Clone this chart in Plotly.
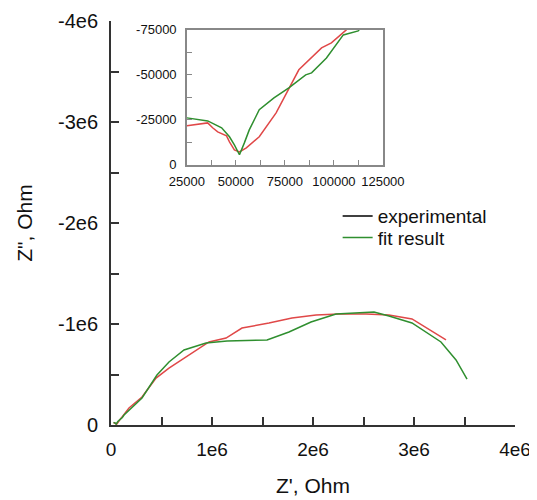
import plotly.graph_objects as go

# experimental impedance (Z', Z'') in Ohm - low-Z part, rest from the main plot
exp_re = [25000, 35600, 38100, 40700, 45200, 46700, 49200, 51800, 55300, 61900, 70500, 77000,
          82100, 93700, 98700, 106300,
          178000, 307000, 446000, 574000, 743000, 970000, 1139000, 1297000, 1564000, 1792000,
          2030000, 2257000, 2525000, 2752000, 2980000, 3317000]
exp_im = [-21700, -23300, -20600, -18300, -16100, -12800, -8300, -7200, -9400, -15600, -28900, -42800,
          -52800, -65000, -67800, -75000,
          -168000, -277000, -465000, -564000, -673000, -822000, -861000, -960000, -1010000, -1059000,
          -1089000, -1099000, -1099000, -1089000, -1050000, -842000]

fit_re = [25000, 35600, 42700, 46700, 49200, 51800, 54300, 56800, 61900, 69400, 77000, 85600,
          88600, 96200, 104800, 112400,
          129000, 198000, 307000, 455000, 574000, 723000, 941000, 1149000, 1545000, 1762000,
          1980000, 2228000, 2604000, 2752000, 2980000, 3267000, 3416000, 3525000]
fit_im = [-26100, -24400, -20600, -15600, -11100, -5600, -12200, -19400, -30600, -37200, -42800, -50000,
          -51100, -59400, -72200, -74400,
          -99000, -168000, -267000, -495000, -624000, -743000, -812000, -832000, -842000, -921000,
          -1020000, -1099000, -1119000, -1079000, -1010000, -822000, -644000, -455000]

main_xticks = [0, 1e6, 2e6, 3e6, 4e6]
main_xlabels = ["0", "1e6", "2e6", "3e6", "4e6"]
main_yticks = [0, -1e6, -2e6, -3e6, -4e6]
main_ylabels = ["0", "-1e6", "-2e6", "-3e6", "-4e6"]
inset_xticks = [25000, 50000, 75000, 100000, 125000]
inset_xlabels = ["25000", "50000", "75000", "100000", "125000"]
inset_yticks = [0, -25000, -50000, -75000]
inset_ylabels = ["0", "-25000", "-50000", "-75000"]

RED = "#e04848"
GREEN = "#2f8f2f"
FONT = "Liberation Sans, Arial, sans-serif"

fig = go.Figure()
for xa, ya in [("x", "y"), ("x2", "y2")]:
    fig.add_trace(go.Scatter(x=exp_re, y=exp_im, mode="lines", xaxis=xa, yaxis=ya,
                             line=dict(color=RED, width=1.5), showlegend=False))
    fig.add_trace(go.Scatter(x=fit_re, y=fit_im, mode="lines", xaxis=xa, yaxis=ya,
                             line=dict(color=GREEN, width=1.5), showlegend=False))

# legend entries (the reference legend shows a black line for the experimental data)
fig.add_trace(go.Scatter(x=[None], y=[None], mode="lines", name="experimental",
                         line=dict(color="black", width=1.5), legend="legend"))
fig.add_trace(go.Scatter(x=[None], y=[None], mode="lines", name="fit result",
                         line=dict(color=GREEN, width=1.5), legend="legend2"))

axis_main = dict(showgrid=False, zeroline=False, showline=True, linecolor="#333", linewidth=2,
                 ticks="inside", ticklen=8, tickwidth=1.5, tickcolor="#333", automargin=False,
                 tickfont=dict(size=20, family=FONT, color="#111"))
axis_inset = dict(showgrid=False, zeroline=False, showline=True, mirror=True, linecolor="#888",
                  linewidth=1.5, ticks="inside", ticklen=5, tickcolor="#888", automargin=False,
                  tickangle=0,
                  minor=dict(dtick=12500, ticks="inside", ticklen=5, tickcolor="#888"),
                  tickfont=dict(size=13, family=FONT, color="#111"))
# the page body adds an 8px margin, so the figure is 8px smaller and margins are shifted
fig.update_layout(
    width=529, height=492,
    margin=dict(l=103, r=22, t=13, b=75),
    plot_bgcolor="white", paper_bgcolor="white",
    font=dict(family=FONT, color="#111"),
    xaxis=dict(axis_main, range=[0, 4e6], tickvals=main_xticks, ticktext=main_xlabels,
               ticklabelstandoff=6, tickfont=dict(size=19, family=FONT, color="#111"),
               minor=dict(dtick=5e5, ticks="inside", ticklen=8, tickcolor="#333"),
               title=dict(text="Z', Ohm", font=dict(size=21, family=FONT), standoff=20)),
    yaxis=dict(axis_main, range=[0, -4e6], tickvals=main_yticks, ticktext=main_ylabels,
               ticklabelstandoff=7,
               minor=dict(dtick=5e5, ticks="inside", ticklen=8, tickcolor="#333"),
               title=dict(text='Z", Ohm', font=dict(size=21, family=FONT), standoff=20)),
    xaxis2=dict(axis_inset, domain=[0.188, 0.673], anchor="y2", range=[25000, 125000],
                tickvals=inset_xticks, ticktext=inset_xlabels, ticklabelstandoff=4),
    yaxis2=dict(axis_inset, domain=[0.644, 0.978], anchor="x2", range=[0, -75000],
                tickvals=inset_yticks, ticktext=inset_ylabels, ticklabelstandoff=6),
    legend=dict(x=0.561, y=0.564, xanchor="left", yanchor="top", bgcolor="rgba(0,0,0,0)",
                font=dict(size=19, family=FONT)),
    legend2=dict(x=0.561, y=0.511, xanchor="left", yanchor="top", bgcolor="rgba(0,0,0,0)",
                 font=dict(size=19, family=FONT)),
)

fig.write_html("out.html")
